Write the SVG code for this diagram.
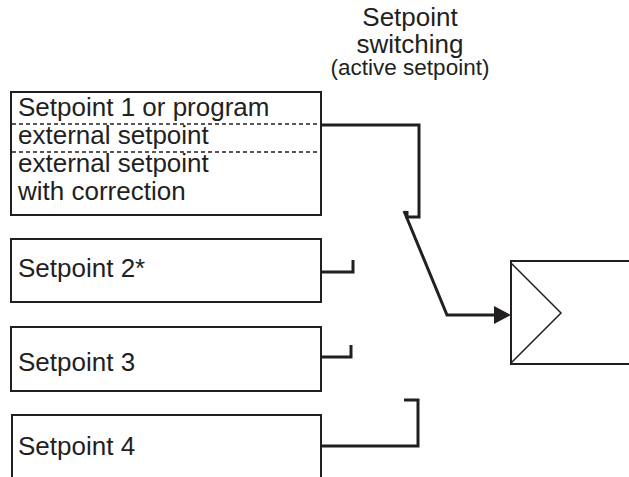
<svg xmlns="http://www.w3.org/2000/svg" width="629" height="477" viewBox="0 0 629 477">
<style>
.box{fill:#fff;stroke:#231f20;stroke-width:2}
.dash{stroke:#231f20;stroke-width:1.5;stroke-dasharray:4 3;fill:none}
.t{font-family:"Liberation Sans",Arial,sans-serif;font-size:26px;fill:#231f20}
.s{font-family:"Liberation Sans",Arial,sans-serif;font-size:22.5px;fill:#231f20}
.c{fill:none;stroke:#231f20;stroke-width:3;stroke-linejoin:miter;stroke-linecap:butt}
</style>
<rect width="629" height="477" fill="#fff"/>
<g id="label">
<text class="t" x="410" y="26" text-anchor="middle">Setpoint</text>
<text class="t" x="410" y="53" text-anchor="middle">switching</text>
<text class="s" x="410" y="75" text-anchor="middle">(active setpoint)</text>
</g>
<g id="setpoint1">
<rect class="box" x="11" y="92" width="310" height="123"/>
<line class="dash" x1="12" y1="124" x2="320" y2="124"/>
<line class="dash" x1="12" y1="152" x2="320" y2="152"/>
<text class="t" x="18" y="116">Setpoint 1 or program</text>
<text class="t" x="18" y="144">external setpoint</text>
<text class="t" x="18" y="172">external setpoint</text>
<text class="t" x="18" y="200">with correction</text>
</g>
<g id="setpoint2">
<rect class="box" x="11" y="239" width="310" height="63"/>
<text class="t" x="18" y="277">Setpoint 2*</text>
</g>
<g id="setpoint3">
<rect class="box" x="11" y="327" width="310" height="64"/>
<text class="t" x="18" y="371">Setpoint 3</text>
</g>
<g id="setpoint4">
<path class="box" d="M12,480 V415 H321 V480"/>
<text class="t" x="18" y="455">Setpoint 4</text>
</g>
<g id="controller">
<rect class="box" x="511" y="261" width="130" height="103"/>
<path d="M511,263 L561,313 L511,363" fill="none" stroke="#231f20" stroke-width="1.5"/>
</g>
<g id="connectors">
<path class="c" d="M321,125 H419 V217 H407 V211"/>
<path class="c" d="M321,272 H353 V260"/>
<path class="c" d="M321,357 H351 V345"/>
<path class="c" d="M321,446 H418 V400 H404"/>
<path class="c" d="M404,211 L447,315 H496"/>
<polygon points="494,306 511,315 494,324" fill="#231f20"/>
</g>
</svg>
